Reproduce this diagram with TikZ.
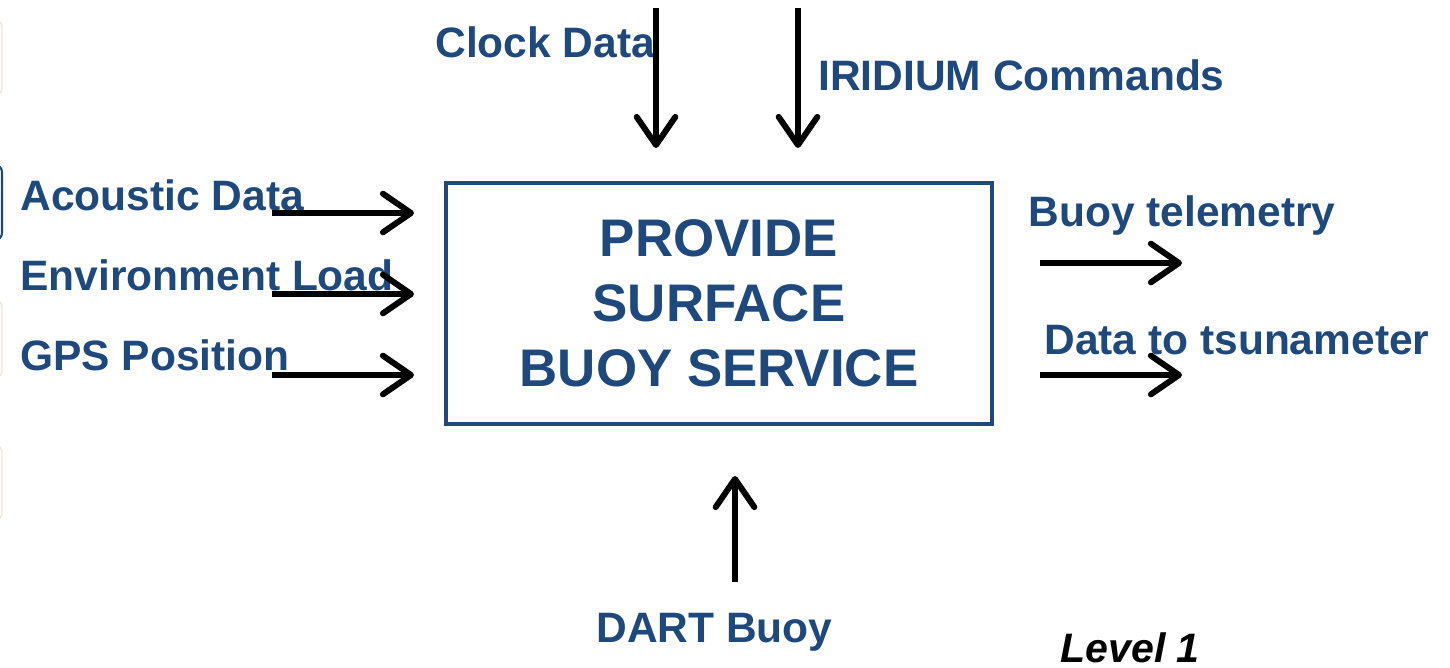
\documentclass[tikz,border=0pt]{standalone}
\usepackage{fontspec}
\setmainfont{Liberation Sans}
\usetikzlibrary{arrows.meta}
\definecolor{dblue}{RGB}{31,73,125}
\definecolor{paleedge}{RGB}{238,232,218}
\tikzset{
  lbl/.style={font=\fontsize{24.2pt}{28pt}\selectfont\bfseries, text=dblue, inner sep=0pt, anchor=base west},
  flow/.style={line width=3.4pt, draw=black, -{Straight Barb[length=16pt,width=22pt,line width=3.4pt,round]}},
  mainbox/.style={draw=dblue, line width=2.3pt, minimum width=546*0.02cm, minimum height=241*0.02cm, inner sep=0pt,
    align=center, text=dblue, font=\fontsize{30.1pt}{36.9pt}\selectfont\bfseries},
  sidebox/.style={rounded corners=4pt, line width=0.8pt}
}
\begin{document}
\begin{tikzpicture}[x=0.02cm,y=-0.02cm]
\useasboundingbox (0,0) rectangle (1450,667);

% edges of neighbouring panels at the left margin
\draw[sidebox, draw=paleedge] (-60,20) rectangle (2,95);
\draw[sidebox, draw=dblue, line width=1.2pt] (-60,165) rectangle (2,240);
\draw[sidebox, draw=paleedge] (-60,300) rectangle (2,378);
\draw[sidebox, draw=paleedge] (-60,445) rectangle (2,520);

% central function block
\node[mainbox] (box) at (719,303.5) {PROVIDE\\SURFACE\\BUOY SERVICE};

% labels
\node[lbl] (clock) at (435,57) {Clock Data};
\node[lbl] (irid) at (818,90) {IRIDIUM Commands};
\node[lbl] (acou) at (20,210) {Acoustic Data};
\node[lbl] (env) at (20,290) {Environment Load};
\node[lbl] (gps) at (20,370) {GPS Position};
\node[lbl] (tele) at (1028,226) {Buoy telemetry};
\node[lbl] (tsu) at (1044,354) {Data to tsunameter};
\node[lbl] (dart) at (596,642) {DART Buoy};
\node[lbl, text=black, font=\fontsize{23.4pt}{28pt}\selectfont\bfseries\itshape] (lvl) at (1060,662) {Level 1};

% arrow end points
\coordinate (c1) at (656,8);   \coordinate (c2) at (656,148);
\coordinate (i1) at (798,8);   \coordinate (i2) at (798,148);
\coordinate (a1) at (272,213); \coordinate (a2) at (414,213);
\coordinate (e1) at (272,294); \coordinate (e2) at (414,294);
\coordinate (g1) at (272,375); \coordinate (g2) at (414,375);
\coordinate (t1) at (1040,263); \coordinate (t2) at (1182,263);
\coordinate (d1) at (1040,375); \coordinate (d2) at (1182,375);
\coordinate (b1) at (735,582); \coordinate (b2) at (735,476);

% flows
\draw[flow] (c1) -- (c2);
\draw[flow] (i1) -- (i2);
\draw[flow] (a1) -- (a2);
\draw[flow] (e1) -- (e2);
\draw[flow] (g1) -- (g2);
\draw[flow] (t1) -- (t2);
\draw[flow] (d1) -- (d2);
\draw[flow] (b1) -- (b2);
\end{tikzpicture}
\end{document}
